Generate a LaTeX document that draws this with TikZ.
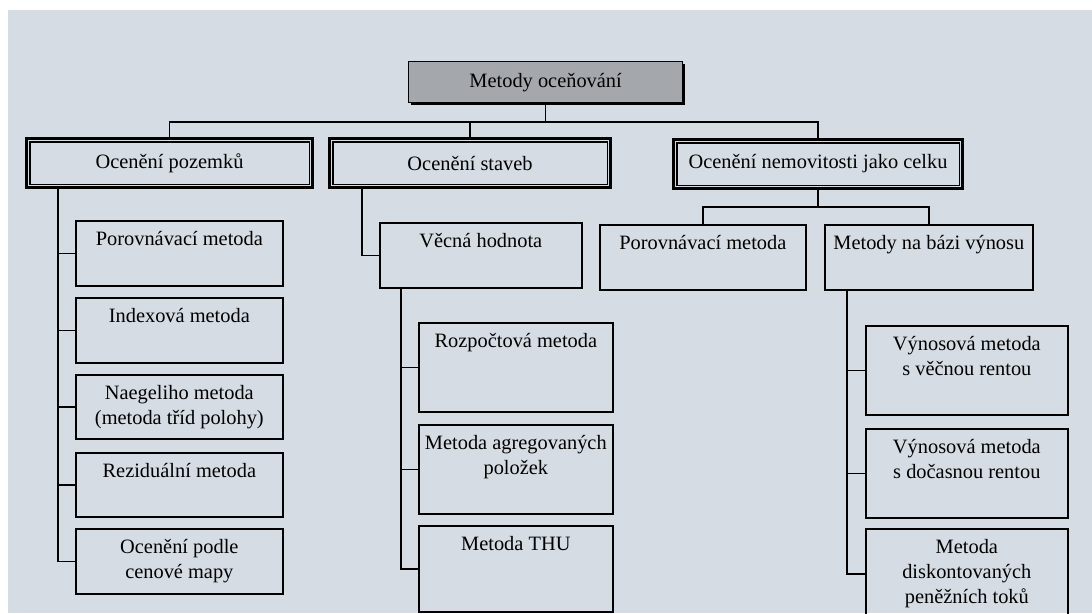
\documentclass[tikz,border=0pt]{standalone}
\usepackage{fontspec}
\setmainfont{Liberation Serif}
\usetikzlibrary{positioning, calc, shadows}

\definecolor{paper}{RGB}{214,220,227}
\definecolor{headfill}{RGB}{164,168,173}

\begin{document}
\begin{tikzpicture}[
    x=0.025cm, y=-0.025cm,
    every node/.style={font=\fontsize{14.5}{17.8}\selectfont},
    sz/.style 2 args={minimum width=#1*0.025cm, minimum height=#2*0.025cm},
    head/.style={draw, line width=0.9pt, fill=headfill, anchor=north west,
                 drop shadow={shadow xshift=1.6pt, shadow yshift=-1.6pt,
                              opacity=1, fill=black}},
    group/.style={draw, line width=2.2pt, anchor=north west,
                  append after command={\pgfextra{\draw[line width=0.8pt]
                    ($(\tikzlastnode.north west)+(5,5)$) rectangle
                    ($(\tikzlastnode.south east)+(-5,-5)$);}}},
    method/.style={draw, line width=1.2pt, anchor=north west, inner sep=0pt},
    lbl/.style={anchor=north, align=center, inner sep=0pt, yshift=-0.27cm},
    link/.style={line width=1.2pt}
  ]
  \useasboundingbox (0,0) rectangle (1092,613);
  \clip (0,0) rectangle (1092,613);
  \fill[white] (0,0) rectangle (1092,613);
  \fill[paper] (8,10) rectangle (1092,613);

  % Root
  \node[head, sz={274}{41}] (root) at (408,61) {Metody oceňování};

  % First level
  \node[group, sz={286}{49}] (pz) at (25,137)  {Ocenění pozemků};
  \node[group, sz={281}{49}] (st) at (328,137) {Ocenění staveb};
  \node[group, sz={289}{49}] (nc) at (672,138) {Ocenění nemovitosti jako celku};

  \coordinate (bus) at ($(root.south)+(0,19)$);
  \draw[link] (root.south) -- (bus);
  \draw[link] (pz.north) |- (bus) -| (nc.north);
  \draw[link] (st.north) -- (st.north |- bus);

  % Land
  \node[method, sz={207}{65}, label={[lbl]north:Porovnávací metoda}] (pz1) at (75,220) {};
  \node[method, sz={207}{65}, label={[lbl]north:Indexová metoda}] (pz2) at (75,297) {};
  \node[method, sz={207}{64}, label={[lbl]north:{Naegeliho metoda\\(metoda tříd polohy)}}] (pz3) at (75,374) {};
  \node[method, sz={207}{64}, label={[lbl]north:Reziduální metoda}] (pz4) at (75,452) {};
  \node[method, sz={207}{65}, label={[lbl]north:{Ocenění podle\\cenové mapy}}] (pz5) at (75,528) {};

  \draw[link] (pz.south west) ++(33,0) |- (pz5.west);
  \foreach \n in {pz1,pz2,pz3,pz4}
    \draw[link] (\n.west) -- ++(-17,0);

  % Buildings
  \node[method, sz={202}{65}, label={[lbl]north:Věcná hodnota}] (st1) at (379,222) {};
  \node[method, sz={194}{89}, label={[lbl]north:Rozpočtová metoda}] (st2) at (418,322) {};
  \node[method, sz={194}{89}, label={[lbl]north:{Metoda agregovaných\\položek}}] (st3) at (418,424) {};
  \node[method, sz={194}{86}, label={[lbl]north:Metoda THU}] (st4) at (418,525) {};

  \draw[link] (st.south west) ++(34,0) |- (st1.west);
  \draw[link] (st1.south west) ++(22,0) |- (st4.west);
  \foreach \n in {st2,st3}
    \draw[link] (\n.west) -- ++(-17,0);

  % Whole property
  \node[method, sz={206}{65}, label={[lbl]north:Porovnávací metoda}] (nc1) at (599,224) {};
  \node[method, sz={208}{65}, label={[lbl]north:Metody na bázi výnosu}] (nc2) at (824,224) {};
  \node[method, sz={202}{89}, label={[lbl]north:{Výnosová metoda\\s věčnou rentou}}] (nc3) at (865,325) {};
  \node[method, sz={202}{89}, label={[lbl]north:{Výnosová metoda\\s dočasnou rentou}}] (nc4) at (865,428) {};
  \node[method, sz={202}{90}, label={[lbl]north:{Metoda\\diskontovaných\\peněžních toků}}] (nc5) at (865,528) {};

  \coordinate (fork) at ($(nc.south)+(0,17)$);
  \draw[link] (nc.south) -- (fork);
  \draw[link] (nc1.north) |- (fork) -| (nc2.north);
  \draw[link] (nc2.south west) ++(23,0) |- (nc5.west);
  \foreach \n in {nc3,nc4}
    \draw[link] (\n.west) -- ++(-18,0);
\end{tikzpicture}
\end{document}
